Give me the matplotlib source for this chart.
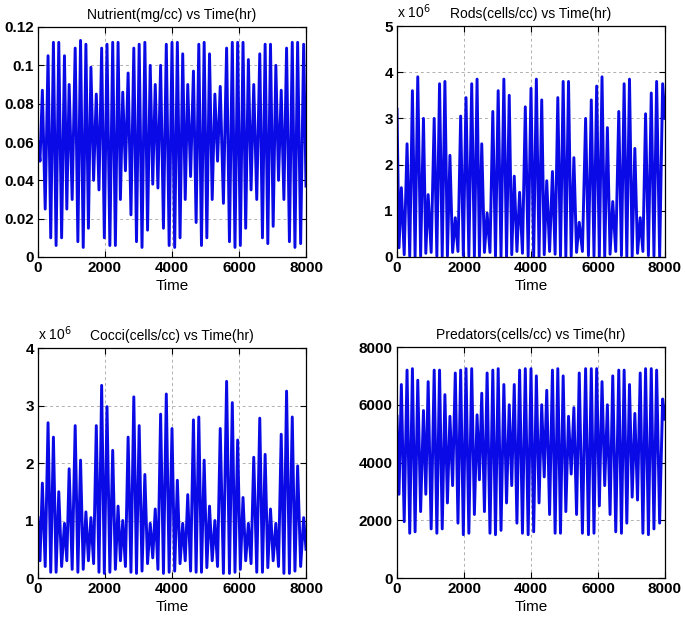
import numpy as np
import matplotlib
matplotlib.use('Agg')
import matplotlib.pyplot as plt

plt.rcParams['font.family'] = ['Liberation Sans', 'DejaVu Sans']

# times (hr) of the peaks and of the trough just before each peak
t_peak = [130, 300, 460, 620, 790, 930, 1110, 1270, 1430, 1580,
          1740, 1900, 2060, 2230, 2390, 2530, 2690, 2860, 3020, 3190,
          3350, 3500, 3660, 3830, 4000, 4160, 4320, 4470, 4640, 4800,
          4960, 5120, 5280, 5440, 5630, 5800, 5960, 6120, 6280, 6440,
          6620, 6780, 6940, 7100, 7260, 7420, 7590, 7750, 7930]
t_trough = [60, 215, 380, 540, 705, 860, 1020, 1190, 1350, 1505,
            1660, 1820, 1980, 2145, 2310, 2460, 2610, 2775, 2940, 3105,
            3270, 3425, 3580, 3745, 3915, 4080, 4240, 4395, 4555, 4720,
            4880, 5040, 5200, 5360, 5535, 5715, 5880, 6040, 6200, 6360,
            6530, 6700, 6860, 7020, 7180, 7340, 7505, 7670, 7840]

# Nutrient (mg/cc)
nut_start, nut_end = 0.06, 0.037
nut_peaks = [0.087, 0.105, 0.112, 0.112, 0.105, 0.090, 0.109, 0.113, 0.111, 0.099,
             0.085, 0.109, 0.111, 0.112, 0.112, 0.086, 0.096, 0.109, 0.111, 0.112,
             0.100, 0.090, 0.100, 0.111, 0.112, 0.112, 0.106, 0.090, 0.097, 0.111,
             0.112, 0.106, 0.085, 0.089, 0.109, 0.112, 0.112, 0.112, 0.103, 0.090,
             0.106, 0.111, 0.111, 0.100, 0.087, 0.109, 0.112, 0.112, 0.111]
nut_troughs = [0.050, 0.025, 0.010, 0.006, 0.010, 0.025, 0.030, 0.008, 0.005, 0.015,
               0.040, 0.035, 0.010, 0.006, 0.006, 0.030, 0.045, 0.022, 0.008, 0.005,
               0.014, 0.038, 0.036, 0.015, 0.006, 0.005, 0.010, 0.030, 0.042, 0.018,
               0.006, 0.010, 0.030, 0.050, 0.028, 0.008, 0.005, 0.006, 0.015, 0.035,
               0.030, 0.010, 0.007, 0.016, 0.040, 0.030, 0.008, 0.005, 0.007]

# Rods (x 10^6 cells/cc)
rods_start, rods_end = 3.2, 3.0
rods_peaks = [1.5, 2.45, 3.6, 3.9, 3.0, 1.35, 3.0, 3.75, 3.8, 2.2,
              0.85, 3.05, 3.45, 3.75, 3.85, 2.45, 0.95, 3.15, 3.6, 3.85,
              3.5, 1.75, 1.4, 3.25, 3.65, 3.85, 3.4, 1.65, 1.85, 3.45,
              3.8, 3.8, 2.15, 0.75, 3.0, 3.4, 3.7, 3.9, 2.8, 1.2,
              3.15, 3.75, 3.85, 2.35, 0.85, 3.1, 3.55, 3.8, 3.75]
rods_troughs = [0.2, 0.05, 0.02, 0.01, 0.02, 0.08, 0.1, 0.02, 0.01, 0.02,
                0.1, 0.12, 0.03, 0.02, 0.01, 0.02, 0.1, 0.1, 0.02, 0.01,
                0.01, 0.05, 0.12, 0.08, 0.02, 0.01, 0.01, 0.05, 0.12, 0.06,
                0.02, 0.01, 0.02, 0.1, 0.12, 0.03, 0.02, 0.01, 0.01, 0.06,
                0.12, 0.03, 0.01, 0.01, 0.08, 0.12, 0.03, 0.02, 0.01]

# Cocci (x 10^6 cells/cc)
cocci_start, cocci_end = 1.05, 0.5
cocci_peaks = [1.65, 2.7, 2.45, 1.5, 0.95, 1.9, 2.65, 2.05, 1.15, 1.05,
               2.65, 3.35, 2.98, 2.22, 1.25, 1.0, 2.45, 3.15, 2.65, 1.8,
               0.95, 1.2, 2.85, 3.2, 2.6, 1.7, 0.95, 1.45, 2.75, 2.8,
               2.05, 1.25, 1.0, 2.6, 3.42, 3.05, 2.4, 1.4, 0.95, 2.1,
               2.78, 2.15, 1.2, 0.95, 2.5, 3.25, 2.8, 1.95, 1.05]
cocci_troughs = [0.3, 0.2, 0.1, 0.1, 0.2, 0.3, 0.15, 0.1, 0.15, 0.3,
                 0.25, 0.1, 0.08, 0.1, 0.15, 0.3, 0.2, 0.1, 0.08, 0.12,
                 0.25, 0.35, 0.15, 0.08, 0.1, 0.12, 0.25, 0.3, 0.12, 0.1,
                 0.1, 0.18, 0.3, 0.2, 0.08, 0.08, 0.1, 0.15, 0.3, 0.25,
                 0.1, 0.1, 0.18, 0.3, 0.2, 0.08, 0.08, 0.12, 0.2]

# Predators (cells/cc)
pred_start, pred_end = 5600, 5500
pred_peaks = [6700, 7200, 7250, 6850, 5800, 6800, 7200, 7200, 6350, 5600,
              7100, 7200, 7250, 7250, 5650, 6400, 7100, 7200, 7250, 6700,
              6000, 6700, 7200, 7250, 7250, 7000, 6000, 6500, 7200, 7250,
              7000, 5600, 5900, 7100, 7250, 7250, 7250, 6800, 6000, 7000,
              7200, 7200, 6700, 5700, 7100, 7250, 7250, 7200, 6200]
pred_troughs = [2900, 1950, 1550, 1600, 2300, 2900, 1700, 1550, 1700, 2600,
                3200, 1900, 1500, 1550, 2200, 3400, 2300, 1550, 1500, 1650,
                2600, 3200, 1900, 1550, 1500, 1600, 2600, 3500, 2200, 1550,
                1550, 2300, 3600, 2200, 1550, 1500, 1550, 2500, 3200, 2200,
                1600, 1550, 1900, 2800, 2700, 1550, 1500, 1700, 1900]

x_ticks = [0, 2000, 4000, 6000, 8000]


def series(start, troughs, peaks, end):
    t = [0] + list(np.column_stack((t_trough, t_peak)).ravel()) + [8000]
    v = [start] + list(np.column_stack((troughs, peaks)).ravel()) + [end]
    return t, v


panels = [
    ('Nutrient(mg/cc) vs Time(hr)', series(nut_start, nut_troughs, nut_peaks, nut_end),
     [0, 0.02, 0.04, 0.06, 0.08, 0.1, 0.12], ['0', '0.02', '0.04', '0.06', '0.08', '0.1', '0.12'], False,
     [38, 27, 268, 230]),
    ('Rods(cells/cc) vs Time(hr)', series(rods_start, rods_troughs, rods_peaks, rods_end),
     [0, 1, 2, 3, 4, 5], ['0', '1', '2', '3', '4', '5'], True,
     [397, 26, 268, 231]),
    ('Cocci(cells/cc) vs Time(hr)', series(cocci_start, cocci_troughs, cocci_peaks, cocci_end),
     [0, 1, 2, 3, 4], ['0', '1', '2', '3', '4'], True,
     [38, 348, 268, 230]),
    ('Predators(cells/cc) vs Time(hr)', series(pred_start, pred_troughs, pred_peaks, pred_end),
     [0, 2000, 4000, 6000, 8000], ['0', '2000', '4000', '6000', '8000'], False,
     [397, 347, 268, 231]),
]

W, H = 685, 619
fig = plt.figure(figsize=(W / 100, H / 100), dpi=100)

for title, (t, v), yt, ytl, expo, (px, py, pw, ph) in panels:
    ax = fig.add_axes([px / W, 1 - (py + ph) / H, pw / W, ph / H])
    ax.plot(t, v, color='#0a0ae6', lw=2.1)
    ax.set_xlim(0, 8000)
    ax.set_ylim(yt[0], yt[-1])
    ax.set_xticks(x_ticks)
    ax.set_xticklabels([str(x) for x in x_ticks])
    ax.set_yticks(yt)
    ax.set_yticklabels(ytl)
    plt.setp(ax.get_xticklabels() + ax.get_yticklabels(), fontweight='bold')
    ax.tick_params(direction='in', top=True, right=True, length=4, width=0.8,
                   labelsize=11, pad=3)
    ax.grid(True, color='#b0b0b0', linestyle=(0, (3, 3)), linewidth=0.7)
    for s in ax.spines.values():
        s.set_linewidth(0.9)
    ax.set_title(title, fontsize=10, pad=6)
    ax.set_xlabel('Time', fontsize=11, labelpad=3)
    if expo:
        ax.text(0, 1.02, r'x 10$^6$', transform=ax.transAxes, fontsize=10,
                ha='left', va='bottom')

fig.savefig('out.png', dpi=100)
